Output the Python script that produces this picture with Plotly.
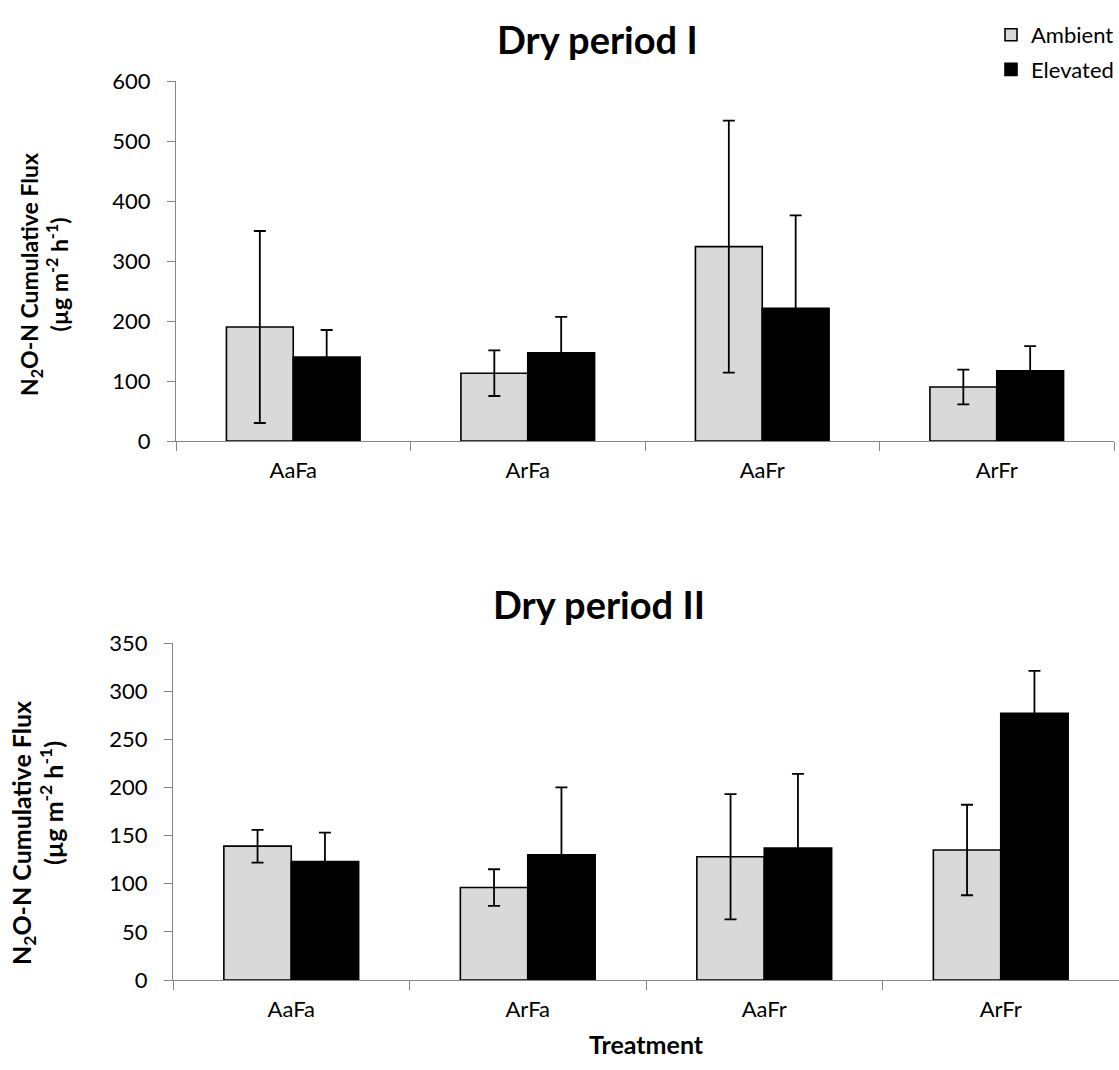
import plotly.graph_objects as go

# Treatments on the x axis
treatments = ["AaFa", "ArFa", "AaFr", "ArFr"]

# Dry period I: cumulative N2O-N flux (µg m-2 h-1) and standard errors
dry1_ambient = [190, 113, 324, 90]
dry1_ambient_err = [160, 38, 210, 29]
dry1_elevated = [140, 147, 221, 117]
dry1_elevated_err = [45, 60, 155, 41]

# Dry period II
dry2_ambient = [139, 96, 128, 135]
dry2_ambient_err = [17, 19, 65, 47]
dry2_elevated = [123, 130, 137, 277]
dry2_elevated_err = [30, 70, 77, 44]

W, H = 1119, 1070
FONT = "Lato"
AXIS_GREY = "#868686"
AMBIENT_FILL = "#d9d9d9"


def px_x(p):
    return p / W


def px_y(p):
    return 1 - p / H


fig = go.Figure()


def add_pair(amb, amb_err, elev, elev_err, xa, ya, show_legend):
    fig.add_trace(go.Bar(
        x=treatments, y=amb, name="Ambient",
        marker=dict(color=AMBIENT_FILL, line=dict(color="black", width=1.6)),
        error_y=dict(type="data", array=amb_err, visible=True,
                     color="black", thickness=1.8, width=6),
        xaxis=xa, yaxis=ya, showlegend=show_legend, legendgroup="amb",
    ))
    fig.add_trace(go.Bar(
        x=treatments, y=elev, name="Elevated",
        marker=dict(color="black", line=dict(color="black", width=1.6)),
        error_y=dict(type="data", array=elev_err, visible=True,
                     color="black", thickness=1.8, width=6),
        xaxis=xa, yaxis=ya, showlegend=show_legend, legendgroup="elev",
    ))


add_pair(dry1_ambient, dry1_ambient_err, dry1_elevated, dry1_elevated_err, "x", "y", True)
add_pair(dry2_ambient, dry2_ambient_err, dry2_elevated, dry2_elevated_err, "x2", "y2", False)

xaxis_common = dict(
    type="category", tickson="boundaries", ticks="outside", ticklen=9,
    tickcolor=AXIS_GREY, tickwidth=1.3, showline=True, linecolor=AXIS_GREY,
    linewidth=1.3, showgrid=False, zeroline=False, ticklabelstandoff=9,
    tickfont=dict(family=FONT, size=22, color="black"),
)
yaxis_common = dict(
    ticks="outside", ticklen=8, tickcolor=AXIS_GREY, tickwidth=1.3,
    showline=True, linecolor=AXIS_GREY, linewidth=1.3, showgrid=False,
    zeroline=False, ticklabelstandoff=12,
    tickfont=dict(family=FONT, size=22, color="black"),
)

fig.update_layout(
    width=W, height=H,
    margin=dict(l=0, r=0, t=0, b=0, autoexpand=False),
    paper_bgcolor="white", plot_bgcolor="white",
    barmode="group", bargap=0.43, bargroupgap=0,
    xaxis=dict(domain=[px_x(176), px_x(1114)], anchor="y", **xaxis_common),
    yaxis=dict(domain=[px_y(441), px_y(81)], range=[0, 600], dtick=100,
               anchor="x", **yaxis_common),
    xaxis2=dict(domain=[px_x(173), 1.0], anchor="y2", **xaxis_common),
    yaxis2=dict(domain=[px_y(980), px_y(643)], range=[0, 350], dtick=50,
                anchor="x2", **yaxis_common),
    legend=dict(
        x=1.0, xanchor="right", y=px_y(14), yanchor="top",
        font=dict(family=FONT, size=22, color="black"),
        bgcolor="rgba(0,0,0,0)", tracegroupgap=3, itemwidth=30,
    ),
    showlegend=True,
)

fig.add_annotation(text="<b>Dry period I</b>", xref="paper", yref="paper",
                   x=px_x(598), y=px_y(39), xanchor="center", yanchor="middle",
                   showarrow=False, font=dict(family=FONT, size=38, color="black"))
fig.add_annotation(text="<b>Dry period II</b>", xref="paper", yref="paper",
                   x=px_x(599), y=px_y(604), xanchor="center", yanchor="middle",
                   showarrow=False, font=dict(family=FONT, size=38, color="black"))

# y-axis titles, one per panel
fig.add_annotation(
    text="<b>N<sub>2</sub>O-N Cumulative Flux<br>(µg m<sup>-2</sup> h<sup>-1</sup>)</b>",
    xref="paper", yref="paper", x=px_x(44), y=px_y(275),
    xanchor="center", yanchor="middle", textangle=-90, showarrow=False,
    font=dict(family=FONT, size=23, color="black"))
fig.add_annotation(
    text="<b>N<sub>2</sub>O-N Cumulative Flux</b>",
    xref="paper", yref="paper", x=px_x(23), y=px_y(833),
    xanchor="center", yanchor="middle", textangle=-90, showarrow=False,
    font=dict(family=FONT, size=25, color="black"))
fig.add_annotation(
    text="<b>(µg m<sup>-2</sup> h<sup>-1</sup>)</b>",
    xref="paper", yref="paper", x=px_x(51), y=px_y(803),
    xanchor="center", yanchor="middle", textangle=-90, showarrow=False,
    font=dict(family=FONT, size=25, color="black"))

fig.add_annotation(text="<b>Treatment</b>", xref="paper", yref="paper",
                   x=px_x(646), y=px_y(1044), xanchor="center", yanchor="middle",
                   showarrow=False, font=dict(family=FONT, size=25, color="black"))

fig.write_html("out.html")
